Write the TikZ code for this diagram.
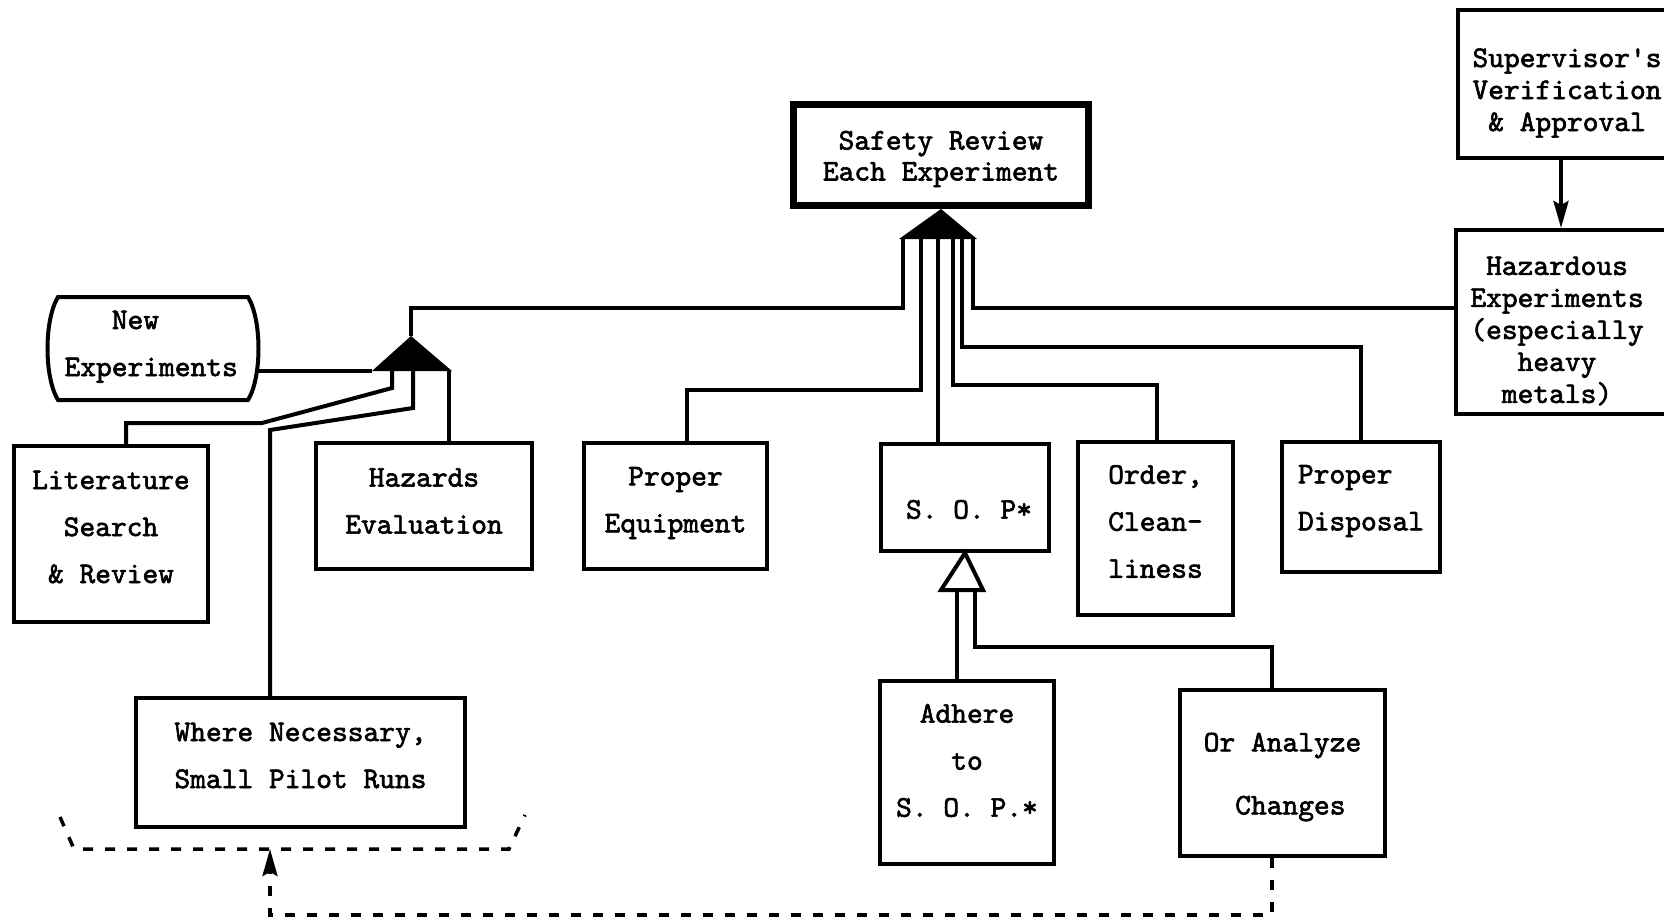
\documentclass[tikz,border=0pt]{standalone}
\usepackage{fontspec}
\newfontfamily\twfont{lmmono10-regular.otf}[FakeBold=2]
\usetikzlibrary{arrows.meta}
\tikzset{
  tw/.style={font=\twfont\fontsize{30}{#1}\selectfont},
  box/.style={draw, line width=4pt, anchor=north west, inner sep=0pt},
  txt/.style={inner sep=0pt, align=center, tw=47},
  conn/.style={line width=4pt},
  dashln/.style={line width=3.5pt, dash pattern=on 10pt off 12pt},
  tip/.style={-{Stealth[length=27pt,width=15pt,inset=4pt]}},
}
\newcommand{\chr}[1]{\hspace*{#1\dimexpr 15.75pt\relax}}
\begin{document}
\begin{tikzpicture}[x=1pt,y=-1pt]
\useasboundingbox (0,0) rectangle (1664,922);
\clip (0,0) rectangle (1664,922);
\fill[white] (0,0) rectangle (1664,922);

% ---- boxes and their texts ----------------------------------------------
\node[box, line width=7pt, minimum width=295pt, minimum height=101pt]
  (safety) at (790,101) {};
\node[txt, tw=31] (safetyT) at ([yshift=-4pt]safety.center)
  {Safety Review\\Each Experiment};

\node[box, minimum width=218pt, minimum height=148pt] (sup) at (1456,8) {};
\node[txt, tw=32] (supT) at ([yshift=-9pt]sup.center)
  {Supervisor\textquotesingle s\\Verification\\\& Approval};

\node[box, minimum width=240pt, minimum height=184pt] (haz) at (1454,228) {};
\node[txt, tw=32] (hazT) at (1557,331)
  {Hazardous\\Experiments\\(especially\\heavy\\metals)};

\node[anchor=north west, inner sep=0pt, minimum width=210pt,
  minimum height=103pt] (newexp) at (48,297) {};
\node[txt, align=left] (newexpT) at ([xshift=-2pt,yshift=2pt]newexp.center)
  {\chr{3}New\\Experiments};
\draw[line width=4pt] (58,297) -- (248,297)
  .. controls (262,320) and (262,377) .. (248,400) -- (58,400)
  .. controls (44,377) and (44,320) .. (58,297) -- cycle;

\node[box, minimum width=194pt, minimum height=176pt] (lit) at (12,444) {};
\node[txt] (litT) at ([yshift=7pt]lit.center) {Literature\\Search\\\& Review};

\node[box, minimum width=216pt, minimum height=126pt] (hazev) at (314,441) {};
\node[txt] (hazevT) at ([yshift=5pt]hazev.center) {Hazards\\Evaluation};

\node[box, minimum width=183pt, minimum height=126pt] (equip) at (582,441) {};
\node[txt] (equipT) at ([yshift=3pt]equip.center) {Proper\\Equipment};

\node[box, minimum width=168pt, minimum height=107pt] (sop) at (879,442) {};
\node[txt] (sopT) at ([xshift=4pt,yshift=-12pt]sop.center) {S. O. P*};

\node[box, minimum width=155pt, minimum height=173pt] (order) at (1076,440) {};
\node[txt] (orderT) at ([yshift=7pt]order.center) {Order,\\Clean-\\liness};

\node[box, minimum width=158pt, minimum height=130pt] (disp) at (1280,440) {};
\node[txt, align=left] (dispT) at ([yshift=6pt]disp.center) {Proper\\Disposal};

\node[box, minimum width=329pt, minimum height=129pt] (where) at (134,696) {};
\node[txt] (whereT) at ([yshift=7pt]where.center)
  {Where Necessary,\\Small Pilot Runs};

\node[box, minimum width=174pt, minimum height=183pt] (adh) at (878,679) {};
\node[txt] (adhT) at ([yshift=12pt]adh.center) {Adhere\\to\\S. O. P.*};

\node[box, minimum width=205pt, minimum height=166pt] (chg) at (1178,688) {};
\node[txt, tw=63, align=left] (chgT) at ([yshift=-4pt]chg.center)
  {Or Analyze\\\chr{2}Changes};

% ---- gate under the safety review --------------------------------------
\fill (safety.south) -- (977,239) -- (899,239) -- cycle;
\coordinate (g2) at (411,336);
\draw[conn] (903,239) |- (411,308) -- (g2);
\draw[conn] (921,239) |- (687,390) -- (687,0 |- equip.north);
\draw[conn] (938,239) -- (938,0 |- sop.north);
\draw[conn] (953,239) |- (1157,385) -- (1157,0 |- order.north);
\draw[conn] (962,239) |- (1361,347) -- (1361,0 |- disp.north);
\draw[conn] (973,239) |- (haz.west |- 0,308);

% ---- gate under the new experiments ------------------------------------
\fill (g2) -- (452,371) -- (372,371) -- cycle;
\draw[conn] (newexp.east |- 0,371) -- (372,371);
\draw[conn] (392,371) -- (392,388) -- (262,423) -- (126,423)
  -- (126,0 |- lit.north);
\draw[conn] (413,371) -- (413,408) -- (270,430) -- (270,0 |- where.north);
\draw[conn] (449,371) -- (449,0 |- hazev.north);

% ---- supervisor approval ------------------------------------------------
\draw[conn, tip] (1561,0 |- sup.south) -- (1561,0 |- haz.north);

% ---- open gate under the S.O.P. -----------------------------------------
\draw[conn, fill=white, line join=miter] (sop.south) -- (983,590) -- (941,590) -- cycle;
\draw[conn] (957,590) -- (957,0 |- adh.north);
\draw[conn] (975,590) |- (1272,647) -- (1272,0 |- chg.north);

% ---- feedback to the pilot runs -----------------------------------------
\coordinate (fb) at (270,849);
\draw[dashln] (60,817) -- (74,849) -- (509,849) -- (525,815);
\draw[dashln, tip] (1272,0 |- chg.south) -- (1272,915) -- (270,915) -- (fb);
\end{tikzpicture}
\end{document}
